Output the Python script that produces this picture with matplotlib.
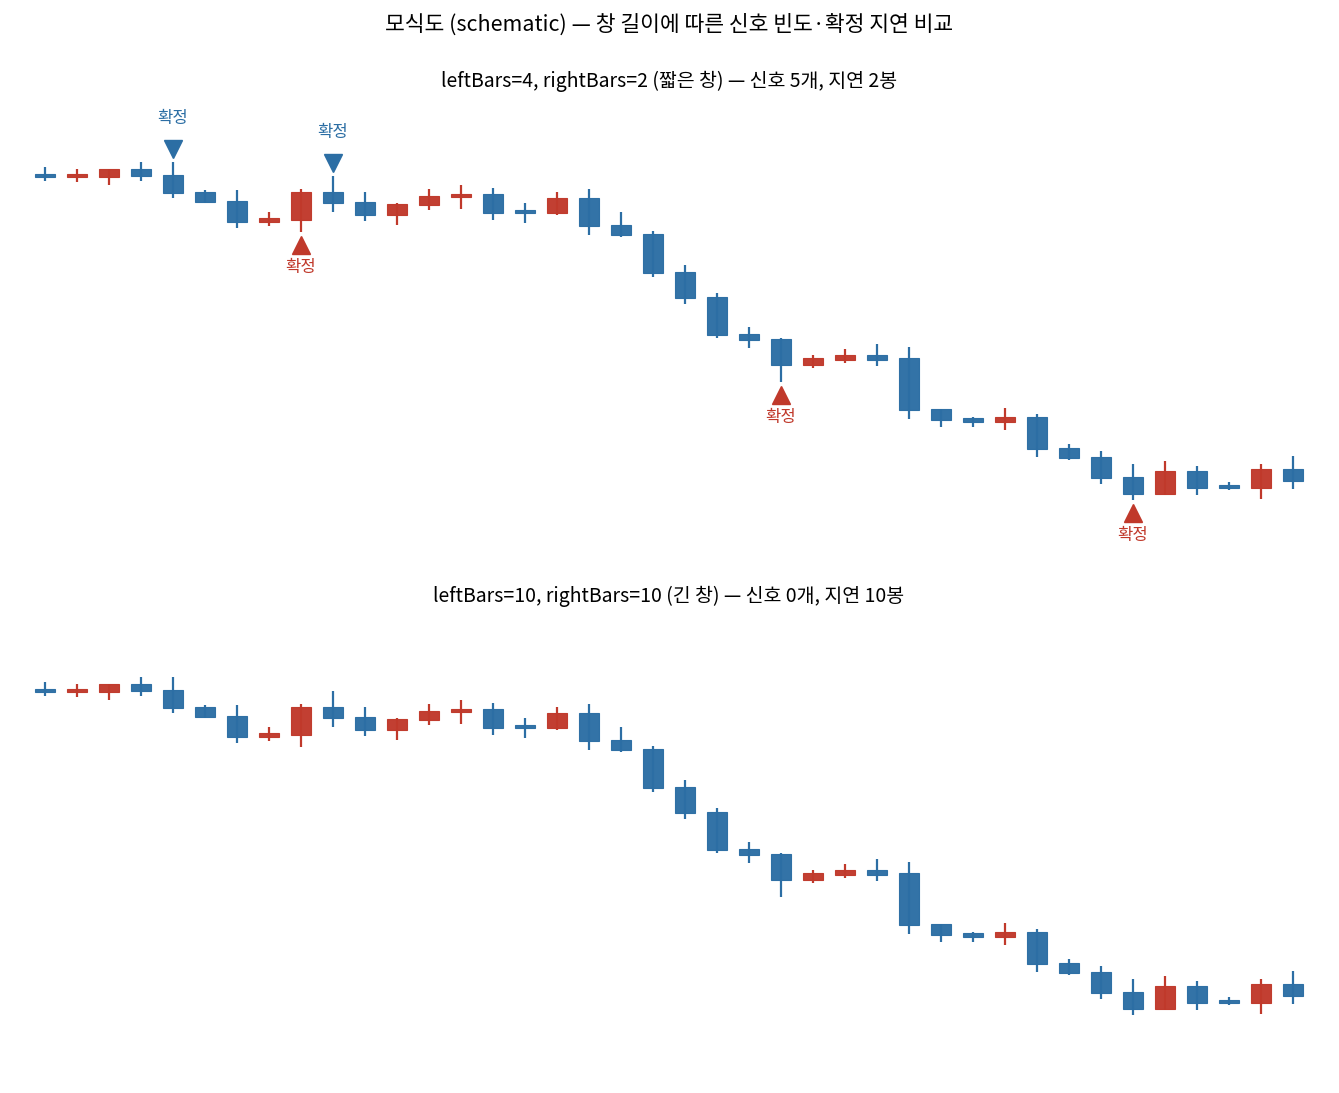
import numpy as np
import matplotlib
matplotlib.use("Agg")
import matplotlib.pyplot as plt

plt.rcParams['font.family'] = ['Noto Sans CJK KR', 'DejaVu Sans']

# OHLC (schematic prices)
opens = [100.1, 99.75, 99.75, 100.6, 100.0, 98.3, 97.4, 95.25, 95.45, 98.3,
         97.3, 95.95, 96.95, 97.8, 98.1, 96.5, 96.15, 97.7, 95.0, 94.1,
         90.3, 87.8, 84.1, 83.6, 80.95, 81.5, 82.0, 81.7, 76.55, 75.7,
         75.3, 75.8, 72.7, 71.8, 69.8, 68.05, 70.4, 69.0, 68.65, 70.6]
closes = [99.75, 100.1, 100.6, 99.85, 98.15, 97.25, 95.25, 95.65, 98.3, 97.15,
          95.95, 97.1, 97.9, 98.1, 96.15, 96.15, 97.7, 94.85, 93.95, 90.15,
          87.65, 83.95, 83.45, 80.95, 81.7, 82.0, 81.5, 76.45, 75.45, 75.3,
          75.8, 72.55, 71.65, 69.65, 68.05, 70.4, 68.65, 68.65, 70.6, 69.35]
highs = [100.75, 100.6, 100.6, 101.25, 101.3, 98.45, 98.45, 96.3, 98.55, 99.9,
         98.3, 97.2, 98.6, 99.0, 98.7, 97.2, 98.3, 98.6, 96.3, 94.4,
         91.0, 88.2, 84.8, 83.7, 82.0, 82.6, 83.1, 82.8, 76.6, 75.8,
         76.7, 76.1, 73.1, 72.4, 71.1, 71.4, 70.9, 69.3, 71.1, 71.9]
lows = [99.35, 99.25, 98.95, 99.35, 97.65, 97.15, 94.65, 94.85, 94.25, 96.25,
        95.35, 95.0, 96.5, 96.6, 95.5, 95.2, 96.0, 94.0, 93.8, 89.8,
        87.1, 83.7, 82.7, 79.25, 80.7, 81.2, 80.85, 75.6, 74.8, 74.8,
        74.45, 71.75, 71.5, 69.1, 67.45, 67.95, 67.95, 68.45, 67.55, 68.55]

# confirmed pivots for the short window (bar index)
pivot_highs = [4, 9]
pivot_lows = [8, 23, 34]

titles = ["leftBars=4, rightBars=2 (짧은 창) — 신호 5개, 지연 2봉",
          "leftBars=10, rightBars=10 (긴 창) — 신호 0개, 지연 10봉"]
suptitle = "모식도 (schematic) — 창 길이에 따른 신호 빈도·확정 지연 비교"
mark_label = "확정"

RED = "#c0392b"
BLUE = "#2c6ea4"


def draw_candles(ax):
    x = np.arange(len(opens))
    o = np.array(opens)
    c = np.array(closes)
    cols = [RED if cc > oo else BLUE for oo, cc in zip(o, c)]
    ax.vlines(x, lows, highs, colors=cols, linewidth=1.6, zorder=1)
    ax.bar(x, np.abs(c - o), bottom=np.minimum(o, c), width=0.62,
           color=cols, edgecolor=cols, linewidth=0.8, alpha=0.97, zorder=2)


fig, axes = plt.subplots(2, 1, figsize=(13.39, 10.93), dpi=100, sharey=True)
fig.subplots_adjust(left=0.0168, right=0.9823, top=0.9122, bottom=0.0302, hspace=0.147)

for ax, t in zip(axes, titles):
    draw_candles(ax)
    ax.set_xlim(-0.7, len(opens) - 0.3)
    ax.set_ylim(63.0, 107.9)
    ax.set_title(t, fontsize=14, pad=6.5)
    ax.axis('off')

ax = axes[0]
for i in pivot_highs:
    ax.plot(i, highs[i] + 1.3, marker='v', color=BLUE, markersize=13, zorder=3)
    ax.text(i, highs[i] + 4.3, mark_label, color=BLUE, fontsize=12,
            ha='center', va='center')
for i in pivot_lows:
    ax.plot(i, lows[i] - 1.3, marker='^', color=RED, markersize=13, zorder=3)
    ax.text(i, lows[i] - 3.55, mark_label, color=RED, fontsize=12,
            ha='center', va='center')

fig.suptitle(suptitle, fontsize=15.5, y=0.988)

fig.savefig("out.png", dpi=100)
